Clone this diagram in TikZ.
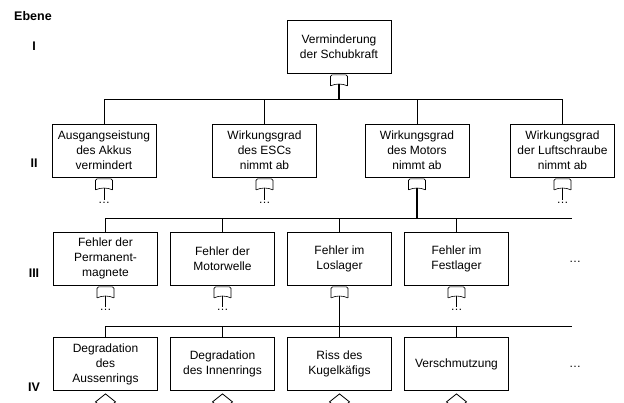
\documentclass[tikz,border=0pt]{standalone}
\usepackage{fontspec}
\setmainfont{Liberation Sans}
\usetikzlibrary{calc}

\begin{document}
\begin{tikzpicture}[x=1pt, y=-1pt,
  ev/.style={draw, line width=0.8pt, minimum width=104pt, minimum height=53pt, align=center, inner sep=1pt, font=\fontsize{12}{15}\selectfont},
  lvl/.style={font=\fontsize{12.5}{14}\selectfont\bfseries, inner sep=0pt},
  more/.style={font=\fontsize{12}{14}\selectfont, inner sep=1.5pt},
  conn/.style={line width=0.8pt},
  stem/.style={line width=1.5pt},
  orgate/.pic={
    \draw[line width=0.6pt, rounded corners=1.5pt] (-8.5,11) -- (-8.5,0) -- (8.5,0) -- (8.5,11);
    \draw[line width=0.6pt] (-8.5,11) .. controls (-3,8.5) and (3,8.5) .. (8.5,11);
    \coordinate (-out) at (0,9.2);
  }]
  \useasboundingbox (0,0) rectangle (624,403);
  \clip (0,0) rectangle (624,403);

  % Ebenen
  \node[lvl] (ebene) at (33,16) {Ebene};
  \node[lvl] (lvI) at (34,46) {I};
  \node[lvl] (lvII) at (34,163) {II};
  \node[lvl] (lvIII) at (34,273) {III};
  \node[lvl] (lvIV) at (34,387) {IV};

  % Ebene I
  \node[ev] (top) at (339,46.5) {Verminderung\\der Schubkraft};
  \pic (gtop) at ($(top.south)+(0,1.5)$) {orgate};
  \coordinate (bus1) at (339,99);
  \draw[stem] (gtop-out) -- (bus1);

  % Ebene II
  \node[ev] (l2a) at (104,150.5) {Ausgangseistung\\des Akkus\\vermindert};
  \node[ev] (l2b) at (264.5,150.5) {Wirkungsgrad\\des ESCs\\nimmt ab};
  \node[ev] (l2c) at (417,150.5) {Wirkungsgrad\\des Motors\\nimmt ab};
  \node[ev] (l2d) at (562.5,150.5) {Wirkungsgrad\\der Luftschraube\\nimmt ab};
  \foreach \n in {l2a,l2b,l2c,l2d} {
    \draw[conn] (bus1) -| (\n.north);
    \pic (g\n) at ($(\n.south)+(0,1.5)$) {orgate};
  }
  \foreach \n in {l2a,l2b,l2d} {
    \node[more, anchor=north] (d\n) at ($(\n.south)+(0,23)$) {\dots};
    \draw[conn] (g\n-out) -- (d\n.north);
  }
  \coordinate (bus2) at (417,218);
  \draw[stem] (gl2c-out) -- (bus2);

  % Ebene III
  \node[ev] (l3a) at (105.5,258.5) {Fehler der\\Permanent-\\magnete};
  \node[ev] (l3b) at (222.5,258.5) {Fehler der\\Motorwelle};
  \node[ev] (l3c) at (339.5,258.5) {Fehler im\\Loslager};
  \node[ev] (l3d) at (456.5,258.5) {Fehler im\\Festlager};
  \node[more] (more3) at (575,262) {\dots};
  \foreach \n in {l3a,l3b,l3c,l3d} {
    \draw[conn] (bus2) -| (\n.north);
    \pic (g\n) at ($(\n.south)+(0,1.5)$) {orgate};
  }
  \draw[conn] (bus2) -- ($(bus2 -| more3)+(-3,0)$);
  \foreach \n in {l3a,l3b,l3d} {
    \node[more, anchor=north] (d\n) at ($(\n.south)+(0,22)$) {\dots};
    \draw[conn] (g\n-out) -- (d\n.north);
  }
  \coordinate (bus3) at (339.5,326);
  \draw[stem] (gl3c-out) -- (bus3);

  % Ebene IV
  \node[ev] (l4a) at (105.5,364) {Degradation\\des\\Aussenrings};
  \node[ev] (l4b) at (222.5,364) {Degradation\\des Innenrings};
  \node[ev] (l4c) at (339.5,364) {Riss des\\Kugelkäfigs};
  \node[ev] (l4d) at (456.5,364) {Verschmutzung};
  \node[more] (more4) at (575,367) {\dots};
  \draw[conn] (bus3) -- ($(bus3 -| more4)+(-3,0)$);
  \foreach \n in {l4a,l4b,l4c,l4d} {
    \draw[conn] (bus3) -| (\n.north);
    \draw[conn] ($(\n.south)+(0,3)$) -- ++(10,8) -- ++(-10,8) -- ++(-10,-8) -- cycle;
  }
\end{tikzpicture}
\end{document}
